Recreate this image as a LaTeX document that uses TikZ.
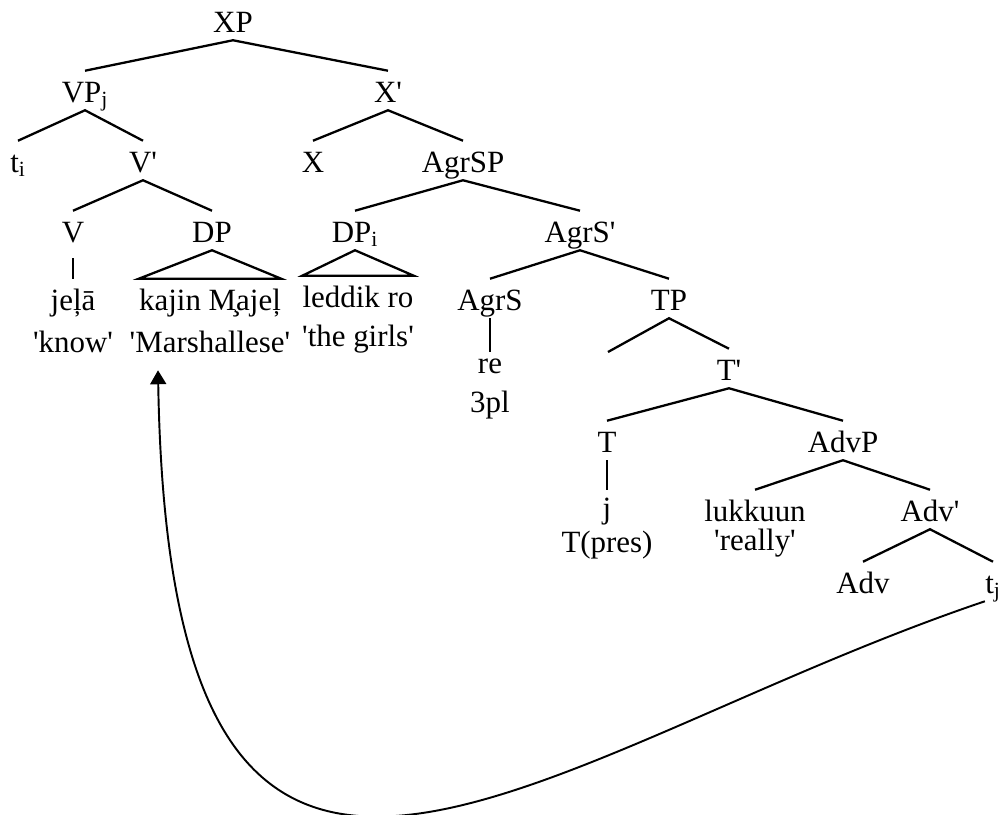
\documentclass[tikz,border=0pt]{standalone}
\usepackage{fontspec}
\newfontfamily\treefont{Liberation Serif}
\usetikzlibrary{arrows.meta,calc}
\tikzset{
  cat/.style={font={\treefont\fontsize{17.6}{21}\selectfont}, inner sep=0pt,
    text height=17.6pt, text depth=4.5pt, anchor=base},
  branch/.style={line width=1.3pt},
}
\begin{document}
\begin{tikzpicture}[x=0.02cm, y=-0.02cm]
    \useasboundingbox (0,0) rectangle (1005,815) ;
    % categories, row by row
    \node[cat] (xp) at (233,32) {XP} ;
    \node[cat] (vp) at (85,102) {VP\textsubscript{j}} ;
    \node[cat] (xbar) at (388,102) {X'} ;
    \node[cat] (ti) at (18,172) {t\textsubscript{i}} ;
    \node[cat] (vbar) at (143,172) {V'} ;
    \node[cat] (x) at (313,172) {X} ;
    \node[cat] (agrsp) at (463,172) {AgrSP} ;
    \node[cat] (v) at (73,242) {V} ;
    \node[cat] (dp) at (212,242) {DP} ;
    \node[cat] (dpi) at (355,242) {DP\textsubscript{i}} ;
    \node[cat] (agrsbar) at (580,242) {AgrS'} ;
    \node[cat] (agrs) at (490,310) {AgrS} ;
    \node[cat] (tp) at (669,310) {TP} ;
    \node[cat] (tbar) at (729,380) {T'} ;
    \node[cat] (t) at (607,452) {T} ;
    \node[cat] (advp) at (843,452) {AdvP} ;
    \node[cat] (advbar) at (930,521) {Adv'} ;
    \node[cat] (adv) at (863,593) {Adv} ;
    \node[cat] (tj) at (993,593) {t\textsubscript{j}} ;
    \coordinate (tpgap) at (608,352) ;
    % words and glosses
    \node[cat] (jela) at (73,310) {jeļā} ;
    \node[cat] (know) at (73,352) {'know'} ;
    \node[cat] (kajin) at (210,310) {kajin M̧ajeļ} ;
    \node[cat] (marsh) at (210,352) {'Marshallese'} ;
    \node[cat] (leddik) at (358,307) {leddik ro} ;
    \node[cat] (girls) at (358,346) {'the girls'} ;
    \node[cat] (re) at (490,373) {re} ;
    \node[cat] (pl) at (490,412) {3pl} ;
    \node[cat] (j) at (607,518) {j} ;
    \node[cat] (tpres) at (607,552) {T(pres)} ;
    \node[cat] (lukkuun) at (755,521) {lukkuun} ;
    \node[cat] (really) at (755,550) {'really'} ;
    % branches
    \draw[branch] (vp.north) -- (xp.south) -- (xbar.north) ;
    \draw[branch] (ti.north) -- (vp.south) -- (vbar.north) ;
    \draw[branch] (v.north) -- (vbar.south) -- (dp.north) ;
    \draw[branch] (x.north) -- (xbar.south) -- (agrsp.north) ;
    \draw[branch] (dpi.north) -- (agrsp.south) -- (agrsbar.north) ;
    \draw[branch] (agrs.north) -- (agrsbar.south) -- (tp.north) ;
    \draw[branch] (tpgap) -- (tp.south) -- (tbar.north) ;
    \draw[branch] (t.north) -- (tbar.south) -- (advp.north) ;
    \draw[branch] (lukkuun.north) -- (advp.south) -- (advbar.north) ;
    \draw[branch] (adv.north) -- (advbar.south) -- (tj.north) ;
    \draw[branch, shorten <=0.16cm] (v.south) -- (jela.north) ;
    \draw[branch, shorten >=-0.2cm] (agrs.south) -- (re.north) ;
    \draw[branch, shorten >=-0.06cm] (t.south) -- (j.north) ;
    \draw[branch] (dp.south) -- (kajin.north west) -- (kajin.north east) -- cycle ;
    \draw[branch] (dpi.south) -- (leddik.north west) -- (leddik.north east) -- cycle ;
    % movement of VP
    \draw[line width=1.1pt, -{Triangle[length=0.28cm,width=0.32cm]}] (tj.south west)
        .. controls +(-456,154) and +(12,720) .. ($(marsh.south)+(-52,10)$) ;
\end{tikzpicture}
\end{document}
